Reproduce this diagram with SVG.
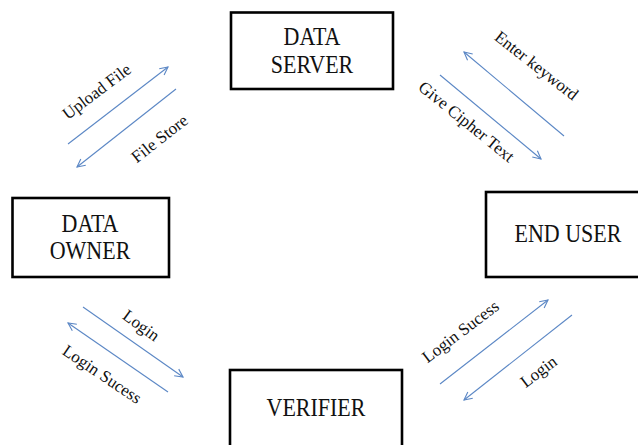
<svg xmlns="http://www.w3.org/2000/svg" width="638" height="445" viewBox="0 0 638 445">
<defs>
<style>
.box{fill:#fff;stroke:#000;stroke-width:2.6}
.nt{font-family:"Liberation Serif","Times New Roman",serif;font-size:22px;fill:#111;text-anchor:middle}
.lt{font-family:"Liberation Serif","Times New Roman",serif;font-size:17px;fill:#111;text-anchor:middle}
.ar{stroke:#5b87c5;stroke-width:1.1;fill:none;marker-end:url(#ah)}
</style>
<marker id="ah" viewBox="0 0 10 10" refX="9" refY="5" markerWidth="10" markerHeight="10" markerUnits="userSpaceOnUse" orient="auto">
<path d="M1,1 L9,5 L1,9" fill="none" stroke="#5b87c5" stroke-width="1.1"/>
</marker>
</defs>
<rect width="638" height="445" fill="#fff"/>
<g id="data-server">
<rect class="box" x="231" y="12.5" width="162" height="76.5"/>
<text class="nt" transform="translate(312,45) scale(1,1.15)">DATA</text>
<text class="nt" transform="translate(312,73) scale(1,1.15)">SERVER</text>
</g>
<g id="data-owner">
<rect class="box" x="12.5" y="198" width="156.5" height="79"/>
<text class="nt" transform="translate(90,232) scale(1,1.15)">DATA</text>
<text class="nt" transform="translate(90,259) scale(1,1.15)">OWNER</text>
</g>
<g id="end-user">
<rect class="box" x="486" y="192" width="160" height="85"/>
<text class="nt" transform="translate(568,242) scale(1,1.15)">END USER</text>
</g>
<g id="verifier">
<rect class="box" x="230" y="370" width="172" height="90"/>
<text class="nt" transform="translate(316,416) scale(1,1.15)">VERIFIER</text>
</g>
<g id="connectors">
<line class="ar" x1="68" y1="144" x2="168" y2="67"/>
<line class="ar" x1="176" y1="89" x2="77" y2="167"/>
<line class="ar" x1="564" y1="136" x2="464" y2="52"/>
<line class="ar" x1="440" y1="75" x2="541" y2="159"/>
<line class="ar" x1="83" y1="307" x2="183" y2="377"/>
<line class="ar" x1="168" y1="392" x2="68" y2="323"/>
<line class="ar" x1="440" y1="384" x2="548" y2="300"/>
<line class="ar" x1="572" y1="315" x2="464" y2="400"/>
<text class="lt" transform="translate(100,96) rotate(-37)">Upload File</text>
<text class="lt" transform="translate(163,143) rotate(-38)">File Store</text>
<text class="lt" transform="translate(533,70) rotate(38)">Enter keyword</text>
<text class="lt" transform="translate(463,126) rotate(39)">Give Cipher Text</text>
<text class="lt" transform="translate(138,330) rotate(36)">Login</text>
<text class="lt" transform="translate(99,379) rotate(34)">Login Sucess</text>
<text class="lt" transform="translate(464,336) rotate(-37)">Login Sucess</text>
<text class="lt" transform="translate(542,376) rotate(-37)">Login</text>
</g>
</svg>
